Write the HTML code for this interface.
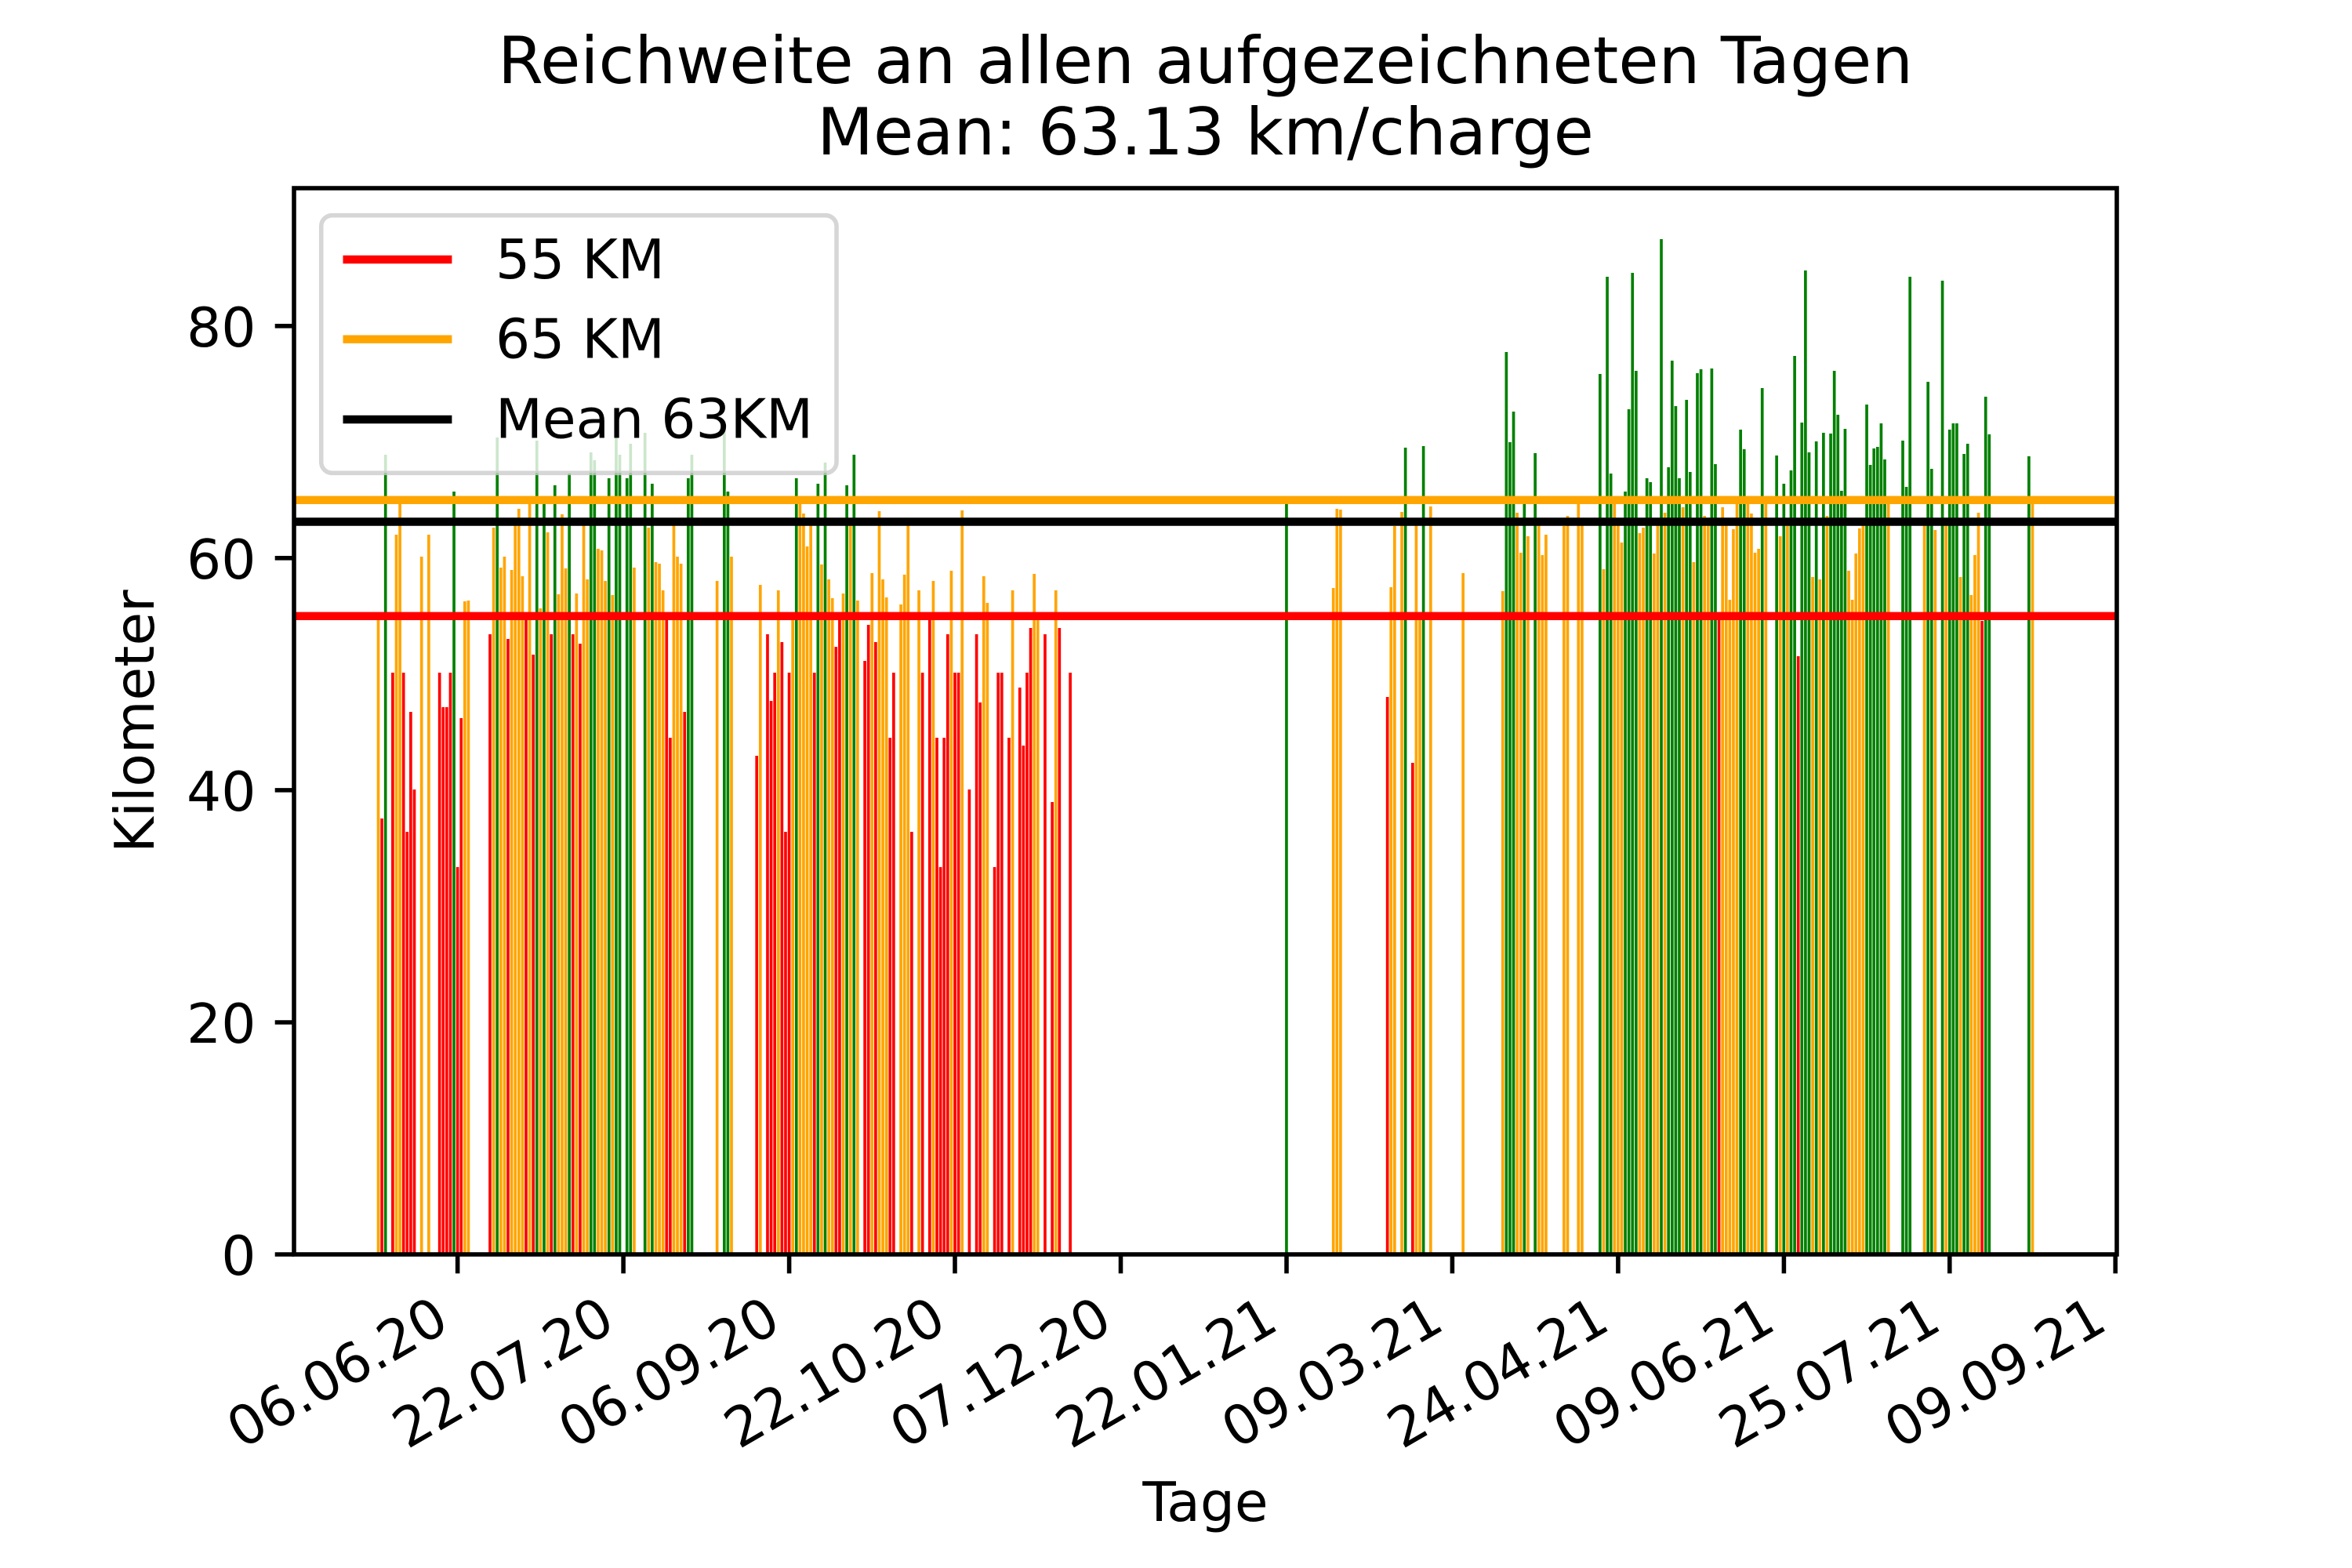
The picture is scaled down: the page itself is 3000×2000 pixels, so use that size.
<!DOCTYPE html>
<html>
<head>
<meta charset="utf-8">
<style>
html,body{margin:0;padding:0;background:#fff;}
body{width:3000px;height:2000px;overflow:hidden;}
svg{display:block;}
text{font-family:"DejaVu Sans","Liberation Sans",sans-serif;fill:#000;}
</style>
</head>
<body>
<svg width="3000" height="2000" viewBox="0 0 3000 2000" xmlns="http://www.w3.org/2000/svg">
<rect x="0" y="0" width="3000" height="2000" fill="#fff"/>

<!-- Title -->
<text x="1537.5" y="106" font-size="83.33" text-anchor="middle">Reichweite an allen aufgezeichneten Tagen</text>
<text x="1537.5" y="197" font-size="83.33" text-anchor="middle">Mean: 63.13 km/charge</text>

<!-- Bars: x in day units relative to 06.06.20 -->
<g transform="translate(581.81 0) scale(4.5969 1)">
<path fill="#ffa500" d="M-22 784h.8V1600h-.8zM-17 682h.8V1600h-.8zM-16 642h.8V1600h-.8zM-10 710h.8V1600h-.8zM-8 682h.8V1600h-.8zM2 767h.8V1600h-.8zM3 766h.8V1600h-.8zM10 673h.8V1600h-.8zM12 724h.8V1600h-.8zM13 710h.8V1600h-.8zM15 727h.8V1600h-.8zM16 669h.8V1600h-.8zM17 649h.8V1600h-.8zM18 735h.8V1600h-.8zM20 642h.8V1600h-.8zM23 776h.8V1600h-.8zM25 679h.8V1600h-.8zM28 758h.8V1600h-.8zM29 656h.8V1600h-.8zM30 725h.8V1600h-.8zM33 757h.8V1600h-.8zM35 668h.8V1600h-.8zM36 739h.8V1600h-.8zM39 700h.8V1600h-.8zM40 702h.8V1600h-.8zM41 741h.8V1600h-.8zM43 759h.8V1600h-.8zM49 724h.8V1600h-.8zM53 673h.8V1600h-.8zM55 717h.8V1600h-.8zM56 719h.8V1600h-.8zM57 753h.8V1600h-.8zM60 668h.8V1600h-.8zM61 710h.8V1600h-.8zM62 719h.8V1600h-.8zM72 741h.8V1600h-.8zM76 710h.8V1600h-.8zM84 746h.8V1600h-.8zM89 753h.8V1600h-.8zM93 785h.8V1600h-.8zM95 642h.8V1600h-.8zM96 655h.8V1600h-.8zM97 697h.8V1600h-.8zM98 668h.8V1600h-.8zM101 720h.8V1600h-.8zM103 739h.8V1600h-.8zM104 763h.8V1600h-.8zM107 757h.8V1600h-.8zM109 668h.8V1600h-.8zM111 766h.8V1600h-.8zM115 731h.8V1600h-.8zM117 652h.8V1600h-.8zM118 739h.8V1600h-.8zM119 762h.8V1600h-.8zM123 771h.8V1600h-.8zM124 733h.8V1600h-.8zM125 668h.8V1600h-.8zM128 753h.8V1600h-.8zM132 741h.8V1600h-.8zM137 728h.8V1600h-.8zM140 651h.8V1600h-.8zM146 735h.8V1600h-.8zM147 769h.8V1600h-.8zM154 753h.8V1600h-.8zM160 732h.8V1600h-.8zM161 785h.8V1600h-.8zM166 753h.8V1600h-.8zM243 750h.8V1600h-.8zM244 649h.8V1600h-.8zM245 650h.8V1600h-.8zM259 749h.8V1600h-.8zM260 671h.8V1600h-.8zM262 653h.8V1600h-.8zM266 668h.8V1600h-.8zM267 785h.8V1600h-.8zM270 646h.8V1600h-.8zM279 731h.8V1600h-.8zM290 754h.8V1600h-.8zM294 654h.8V1600h-.8zM295 705h.8V1600h-.8zM297 684h.8V1600h-.8zM300 668h.8V1600h-.8zM301 708h.8V1600h-.8zM302 682h.8V1600h-.8zM307 671h.8V1600h-.8zM308 658h.8V1600h-.8zM311 642h.8V1600h-.8zM312 668h.8V1600h-.8zM318 726h.8V1600h-.8zM321 642h.8V1600h-.8zM322 668h.8V1600h-.8zM323 692h.8V1600h-.8zM328 680h.8V1600h-.8zM329 673h.8V1600h-.8zM332 706h.8V1600h-.8zM333 668h.8V1600h-.8zM335 654h.8V1600h-.8zM340 647h.8V1600h-.8zM343 717h.8V1600h-.8zM346 658h.8V1600h-.8zM347 668h.8V1600h-.8zM351 647h.8V1600h-.8zM352 668h.8V1600h-.8zM353 765h.8V1600h-.8zM354 675h.8V1600h-.8zM355 642h.8V1600h-.8zM358 642h.8V1600h-.8zM359 655h.8V1600h-.8zM360 705h.8V1600h-.8zM361 700h.8V1600h-.8zM363 642h.8V1600h-.8zM367 684h.8V1600h-.8zM369 668h.8V1600h-.8zM376 736h.8V1600h-.8zM378 739h.8V1600h-.8zM380 658h.8V1600h-.8zM386 728h.8V1600h-.8zM387 765h.8V1600h-.8zM388 706h.8V1600h-.8zM389 674h.8V1600h-.8zM390 668h.8V1600h-.8zM397 642h.8V1600h-.8zM407 668h.8V1600h-.8zM410 676h.8V1600h-.8zM413 668h.8V1600h-.8zM417 736h.8V1600h-.8zM420 759h.8V1600h-.8zM421 708h.8V1600h-.8zM422 654h.8V1600h-.8zM437 642h.8V1600h-.8z"/>
<path fill="#ff0000" d="M-21 1044h.8V1600h-.8zM-18 858h.8V1600h-.8zM-15 858h.8V1600h-.8zM-14 1061h.8V1600h-.8zM-13 908h.8V1600h-.8zM-12 1007h.8V1600h-.8zM-5 858h.8V1600h-.8zM-4 902h.8V1600h-.8zM-3 902h.8V1600h-.8zM-2 858h.8V1600h-.8zM0 1106h.8V1600h-.8zM1 916h.8V1600h-.8zM9 809h.8V1600h-.8zM14 815h.8V1600h-.8zM19 791h.8V1600h-.8zM21 835h.8V1600h-.8zM26 809h.8V1600h-.8zM32 809h.8V1600h-.8zM34 821h.8V1600h-.8zM58 790h.8V1600h-.8zM59 941h.8V1600h-.8zM63 908h.8V1600h-.8zM83 964h.8V1600h-.8zM86 809h.8V1600h-.8zM87 894h.8V1600h-.8zM88 858h.8V1600h-.8zM90 819h.8V1600h-.8zM91 1061h.8V1600h-.8zM92 858h.8V1600h-.8zM99 858h.8V1600h-.8zM105 825h.8V1600h-.8zM106 791h.8V1600h-.8zM113 843h.8V1600h-.8zM114 797h.8V1600h-.8zM116 819h.8V1600h-.8zM120 941h.8V1600h-.8zM121 858h.8V1600h-.8zM126 1061h.8V1600h-.8zM129 858h.8V1600h-.8zM131 791h.8V1600h-.8zM133 941h.8V1600h-.8zM134 1106h.8V1600h-.8zM135 941h.8V1600h-.8zM136 809h.8V1600h-.8zM138 858h.8V1600h-.8zM139 858h.8V1600h-.8zM142 1007h.8V1600h-.8zM144 809h.8V1600h-.8zM145 896h.8V1600h-.8zM149 1106h.8V1600h-.8zM150 858h.8V1600h-.8zM151 858h.8V1600h-.8zM153 941h.8V1600h-.8zM156 877h.8V1600h-.8zM157 951h.8V1600h-.8zM158 858h.8V1600h-.8zM159 801h.8V1600h-.8zM163 809h.8V1600h-.8zM165 1023h.8V1600h-.8zM167 801h.8V1600h-.8zM170 858h.8V1600h-.8zM258 889h.8V1600h-.8zM265 973h.8V1600h-.8zM350 791h.8V1600h-.8zM372 837h.8V1600h-.8zM423 792h.8V1600h-.8z"/>
<path fill="#008000" d="M-20 580h.8V1600h-.8zM-1 627h.8V1600h-.8zM11 558h.8V1600h-.8zM22 562h.8V1600h-.8zM24 636h.8V1600h-.8zM27 619h.8V1600h-.8zM31 604h.8V1600h-.8zM37 577h.8V1600h-.8zM38 587h.8V1600h-.8zM42 610h.8V1600h-.8zM44 550h.8V1600h-.8zM45 580h.8V1600h-.8zM47 610h.8V1600h-.8zM48 566h.8V1600h-.8zM52 552h.8V1600h-.8zM54 617h.8V1600h-.8zM64 610h.8V1600h-.8zM65 580h.8V1600h-.8zM74 545h.8V1600h-.8zM75 627h.8V1600h-.8zM94 610h.8V1600h-.8zM100 617h.8V1600h-.8zM102 590h.8V1600h-.8zM108 619h.8V1600h-.8zM110 580h.8V1600h-.8zM230 636h.8V1600h-.8zM263 571h.8V1600h-.8zM268 569h.8V1600h-.8zM291 449h.8V1600h-.8zM292 564h.8V1600h-.8zM293 525h.8V1600h-.8zM296 636h.8V1600h-.8zM299 578h.8V1600h-.8zM317 477h.8V1600h-.8zM319 353h.8V1600h-.8zM320 604h.8V1600h-.8zM324 627h.8V1600h-.8zM325 522h.8V1600h-.8zM326 348h.8V1600h-.8zM327 473h.8V1600h-.8zM330 610h.8V1600h-.8zM331 615h.8V1600h-.8zM334 305h.8V1600h-.8zM336 596h.8V1600h-.8zM337 460h.8V1600h-.8zM338 518h.8V1600h-.8zM339 610h.8V1600h-.8zM341 510h.8V1600h-.8zM342 602h.8V1600h-.8zM344 476h.8V1600h-.8zM345 471h.8V1600h-.8zM348 470h.8V1600h-.8zM349 592h.8V1600h-.8zM356 548h.8V1600h-.8zM357 573h.8V1600h-.8zM362 495h.8V1600h-.8zM366 581h.8V1600h-.8zM368 617h.8V1600h-.8zM370 600h.8V1600h-.8zM371 454h.8V1600h-.8zM373 539h.8V1600h-.8zM374 345h.8V1600h-.8zM375 577h.8V1600h-.8zM377 563h.8V1600h-.8zM379 552h.8V1600h-.8zM381 553h.8V1600h-.8zM382 473h.8V1600h-.8zM383 529h.8V1600h-.8zM384 626h.8V1600h-.8zM385 547h.8V1600h-.8zM391 516h.8V1600h-.8zM392 593h.8V1600h-.8zM393 572h.8V1600h-.8zM394 570h.8V1600h-.8zM395 540h.8V1600h-.8zM396 586h.8V1600h-.8zM401 562h.8V1600h-.8zM402 621h.8V1600h-.8zM403 353h.8V1600h-.8zM408 487h.8V1600h-.8zM409 598h.8V1600h-.8zM412 358h.8V1600h-.8zM414 548h.8V1600h-.8zM415 540h.8V1600h-.8zM416 540h.8V1600h-.8zM418 579h.8V1600h-.8zM419 566h.8V1600h-.8zM424 506h.8V1600h-.8zM425 554h.8V1600h-.8zM436 582h.8V1600h-.8z"/>
</g>

<!-- Horizontal reference lines -->
<line x1="375" y1="785.8" x2="2700" y2="785.8" stroke="#ff0000" stroke-width="10.42"/>
<line x1="375" y1="637.8" x2="2700" y2="637.8" stroke="#ffa500" stroke-width="10.42"/>
<line x1="375" y1="665.5" x2="2700" y2="665.5" stroke="#000000" stroke-width="10.42"/>

<!-- Spines -->
<rect x="375" y="240" width="2325" height="1360" fill="none" stroke="#000" stroke-width="5.56"/>

<!-- Y ticks -->
<g stroke="#000" stroke-width="5.56">
<line x1="375" y1="1600" x2="350.7" y2="1600"/>
<line x1="375" y1="1304" x2="350.7" y2="1304"/>
<line x1="375" y1="1007.9" x2="350.7" y2="1007.9"/>
<line x1="375" y1="711.8" x2="350.7" y2="711.8"/>
<line x1="375" y1="415.8" x2="350.7" y2="415.8"/>
</g>
<g font-size="69.44" text-anchor="end">
<text x="326.4" y="1626">0</text>
<text x="326.4" y="1330">20</text>
<text x="326.4" y="1034">40</text>
<text x="326.4" y="738">60</text>
<text x="326.4" y="442">80</text>
</g>
<text transform="translate(196 920) rotate(-90)" font-size="69.44" text-anchor="middle">Kilometer</text>

<!-- X ticks -->
<g stroke="#000" stroke-width="5.56">
<line x1="583.65" y1="1600" x2="583.65" y2="1624.3"/>
<line x1="795.1" y1="1600" x2="795.1" y2="1624.3"/>
<line x1="1006.6" y1="1600" x2="1006.6" y2="1624.3"/>
<line x1="1218" y1="1600" x2="1218" y2="1624.3"/>
<line x1="1429.5" y1="1600" x2="1429.5" y2="1624.3"/>
<line x1="1641" y1="1600" x2="1641" y2="1624.3"/>
<line x1="1852.4" y1="1600" x2="1852.4" y2="1624.3"/>
<line x1="2063.9" y1="1600" x2="2063.9" y2="1624.3"/>
<line x1="2275.4" y1="1600" x2="2275.4" y2="1624.3"/>
<line x1="2486.8" y1="1600" x2="2486.8" y2="1624.3"/>
<line x1="2698.2" y1="1600" x2="2698.2" y2="1624.3"/>
</g>
<g font-size="69.44" text-anchor="end">
<text transform="translate(575.9 1694.3) rotate(-30)">06.06.20</text>
<text transform="translate(787.35 1694.3) rotate(-30)">22.07.20</text>
<text transform="translate(998.85 1694.3) rotate(-30)">06.09.20</text>
<text transform="translate(1210.25 1694.3) rotate(-30)">22.10.20</text>
<text transform="translate(1421.75 1694.3) rotate(-30)">07.12.20</text>
<text transform="translate(1633.25 1694.3) rotate(-30)">22.01.21</text>
<text transform="translate(1844.65 1694.3) rotate(-30)">09.03.21</text>
<text transform="translate(2056.15 1694.3) rotate(-30)">24.04.21</text>
<text transform="translate(2267.65 1694.3) rotate(-30)">09.06.21</text>
<text transform="translate(2479.05 1694.3) rotate(-30)">25.07.21</text>
<text transform="translate(2690.45 1694.3) rotate(-30)">09.09.21</text>
</g>
<text x="1537.5" y="1940" font-size="69.44" text-anchor="middle">Tage</text>

<!-- Legend -->
<rect x="409.7" y="274.7" width="657.3" height="328.6" rx="13.9" ry="13.9" fill="#ffffff" fill-opacity="0.8" stroke="#cccccc" stroke-opacity="0.8" stroke-width="5.56"/>
<line x1="437.5" y1="331" x2="576.4" y2="331" stroke="#ff0000" stroke-width="10.42"/>
<line x1="437.5" y1="432.7" x2="576.4" y2="432.7" stroke="#ffa500" stroke-width="10.42"/>
<line x1="437.5" y1="535" x2="576.4" y2="535" stroke="#000000" stroke-width="10.42"/>
<g font-size="69.44">
<text x="632" y="355">55 KM</text>
<text x="632" y="456.7">65 KM</text>
<text x="632" y="558.3">Mean 63KM</text>
</g>
</svg>
</body>
</html>
